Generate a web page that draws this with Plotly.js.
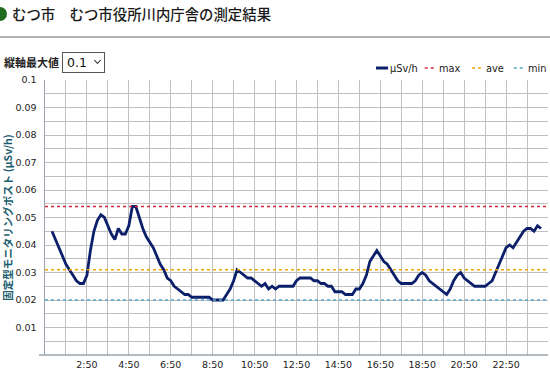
<!DOCTYPE html>
<html><head><meta charset="utf-8">
<script src="https://cdn.plot.ly/plotly-3.0.1.min.js"></script>
<style>
body{margin:0;padding:0;background:#fff;width:550px;height:372px;overflow:hidden;position:relative;font-family:"Noto Sans CJK JP",sans-serif;}
#chart{position:absolute;left:0;top:0;width:550px;height:372px;}
.ov{position:absolute;z-index:5;}
#icon{left:-7px;top:7px;width:14px;height:14px;border-radius:50%;background:#1e6b1e;}
#title{left:12px;top:4px;font-size:14.4px;color:#1a1a1a;line-height:20px;white-space:nowrap;font-weight:500;}
#hr{left:0;top:36px;width:550px;height:2px;background:#b4b4b4;}
#lbl{left:4px;top:54px;font-size:11px;font-weight:bold;color:#222;line-height:16px;white-space:nowrap;}
#sel{left:62px;top:52px;width:41px;height:19px;border:1px solid #555;background:#fff;box-sizing:content-box;}
#selv{position:absolute;left:4px;top:1px;font-family:"DejaVu Sans",sans-serif;font-size:12.5px;color:#111;line-height:17px;}
#chev{position:absolute;left:32px;top:5px;width:4px;height:4px;border-right:1.3px solid #333;border-bottom:1.3px solid #333;transform:rotate(45deg);}
</style></head>
<body>
<div id="chart"></div>
<div class="ov" id="icon"></div>
<div class="ov" id="title">むつ市　むつ市役所川内庁舎の測定結果</div>
<div class="ov" id="hr"></div>
<div class="ov" id="lbl">縦軸最大値</div>
<div class="ov" id="sel"><span id="selv">0.1</span><span id="chev"></span></div>
<script>
// measurement values (μSv/h), every 10 minutes starting 1:10
const startMinutes = 70;
const stepMinutes = 10;
const doseRate = [
  0.045,0.042,0.039,0.036,0.033,0.031,0.029,0.027,0.026,0.026,
  0.029,0.038,0.045,0.049,0.051,0.050,0.047,0.044,0.042,0.046,
  0.044,0.044,0.047,0.054,0.054,0.050,0.046,0.043,0.041,0.039,
  0.036,0.033,0.031,0.028,0.027,0.025,0.024,0.023,0.022,0.022,
  0.021,0.021,0.021,0.021,0.021,0.021,0.020,0.020,0.020,0.020,
  0.022,0.024,0.027,0.031,0.030,0.029,0.028,0.028,0.027,0.026,
  0.025,0.026,0.024,0.025,0.024,0.025,0.025,0.025,0.025,0.025,
  0.027,0.028,0.028,0.028,0.028,0.027,0.027,0.026,0.026,0.025,
  0.025,0.023,0.023,0.023,0.022,0.022,0.022,0.024,0.024,0.026,
  0.029,0.034,0.036,0.038,0.036,0.034,0.033,0.031,0.029,0.027,
  0.026,0.026,0.026,0.026,0.027,0.029,0.030,0.029,0.027,0.026,
  0.025,0.024,0.023,0.022,0.024,0.027,0.029,0.030,0.028,0.027,
  0.026,0.025,0.025,0.025,0.025,0.026,0.027,0.030,0.033,0.036,
  0.039,0.040,0.039,0.041,0.043,0.045,0.046,0.046,0.045,0.047,0.046
];
const maxVal = 0.054;
const aveVal = 0.031;
const minVal = 0.020;
const xTickLabels = ["2:50","4:50","6:50","8:50","10:50","12:50","14:50","16:50","18:50","20:50","22:50"];
const yTickLabels = ["0.01","0.02","0.03","0.04","0.05","0.06","0.07","0.08","0.09","0.1"];
const legendNames = ["μSv/h","max","ave","min"];

function labelToHours(s){const p=s.split(":");return +p[0]+(+p[1])/60;}
const xHours = doseRate.map((v,i)=>(startMinutes+i*stepMinutes)/60);
const xTickVals = xTickLabels.map(labelToHours);
const yTickVals = yTickLabels.map(Number);

const colors = {line:"#0b1f6b", max:"#d7263d", ave:"#f0a500", min:"#5aa6cc"};
const tickFont = {family:"DejaVu Sans, sans-serif", size:9.5, color:"#222"};

const traces = [{
  type:"scatter", mode:"lines", x:xHours, y:doseRate, name:legendNames[0],
  line:{color:colors.line, width:2.8}, hoverinfo:"skip"
}];

function refLine(v,c){return {type:"line",xref:"paper",yref:"y",x0:0,x1:1,y0:v,y1:v,line:{color:c,width:1.4,dash:"dot"},layer:"above"};}
const shapes = [
  refLine(maxVal,colors.max), refLine(aveVal,colors.ave), refLine(minVal,colors.min),
  {type:"line",xref:"paper",yref:"paper",x0:-0.012,x1:1,y0:0,y1:0,line:{color:"#9aa4ae",width:1.5}}
];
// legend samples
const legY = 1.0436;
const legItems = [
  {x0:0.658,x1:0.682,tx:0.686,c:colors.line,w:3,d:"solid"},
  {x0:0.755,x1:0.779,tx:0.784,c:colors.max,w:1.6,d:"dot"},
  {x0:0.849,x1:0.871,tx:0.876,c:colors.ave,w:1.6,d:"dot"},
  {x0:0.932,x1:0.956,tx:0.960,c:colors.min,w:1.6,d:"dot"}
];
const annotations = [];
legItems.forEach((it,k)=>{
  shapes.push({type:"line",xref:"paper",yref:"paper",x0:it.x0,x1:it.x1,y0:legY,y1:legY,line:{color:it.c,width:it.w,dash:it.d}});
  annotations.push({xref:"paper",yref:"paper",x:it.tx,y:legY,xanchor:"left",yanchor:"middle",showarrow:false,
    borderpad:0, borderwidth:0,
    text:legendNames[k],font:{family:"DejaVu Sans, sans-serif",size:9.8,color:"#222"}});
});

const layout = {
  width:550, height:372,
  margin:{l:45,r:2,t:80,b:17,pad:0},
  paper_bgcolor:"#fff", plot_bgcolor:"#fff",
  showlegend:false,
  xaxis:{
    type:"linear", range:[50/60, 24+50/60], tickmode:"array", tickvals:xTickVals, ticktext:xTickLabels,
    showgrid:true, gridcolor:"#c0c0c0", gridwidth:1, zeroline:false, showline:false,
    ticks:"", ticklabelstandoff:2, tickfont:tickFont, fixedrange:true,
    minor:{tick0:50/60, dtick:1, showgrid:true, gridcolor:"#c0c0c0", gridwidth:1, ticks:""}
  },
  yaxis:{
    range:[0,0.1], tickmode:"array", tickvals:yTickVals, ticktext:yTickLabels,
    showgrid:true, gridcolor:"#c0c0c0", gridwidth:1, zeroline:false,
    showline:true, linecolor:"#9aa4ae", linewidth:1.5,
    ticks:"", ticklabelstandoff:5, tickfont:tickFont, fixedrange:true,
    minor:{dtick:0.005, showgrid:true, gridcolor:"#c0c0c0", gridwidth:1, ticks:""},
    title:{text:"固定型モニタリングポスト (μSv/h)", standoff:6,
      font:{family:"Noto Sans CJK JP, sans-serif", size:10.5, color:"#1a5c6e", weight:"bold"}}
  },
  shapes:shapes, annotations:annotations
};
Plotly.newPlot("chart", traces, layout, {displayModeBar:false, staticPlot:true});
</script>
</body></html>
